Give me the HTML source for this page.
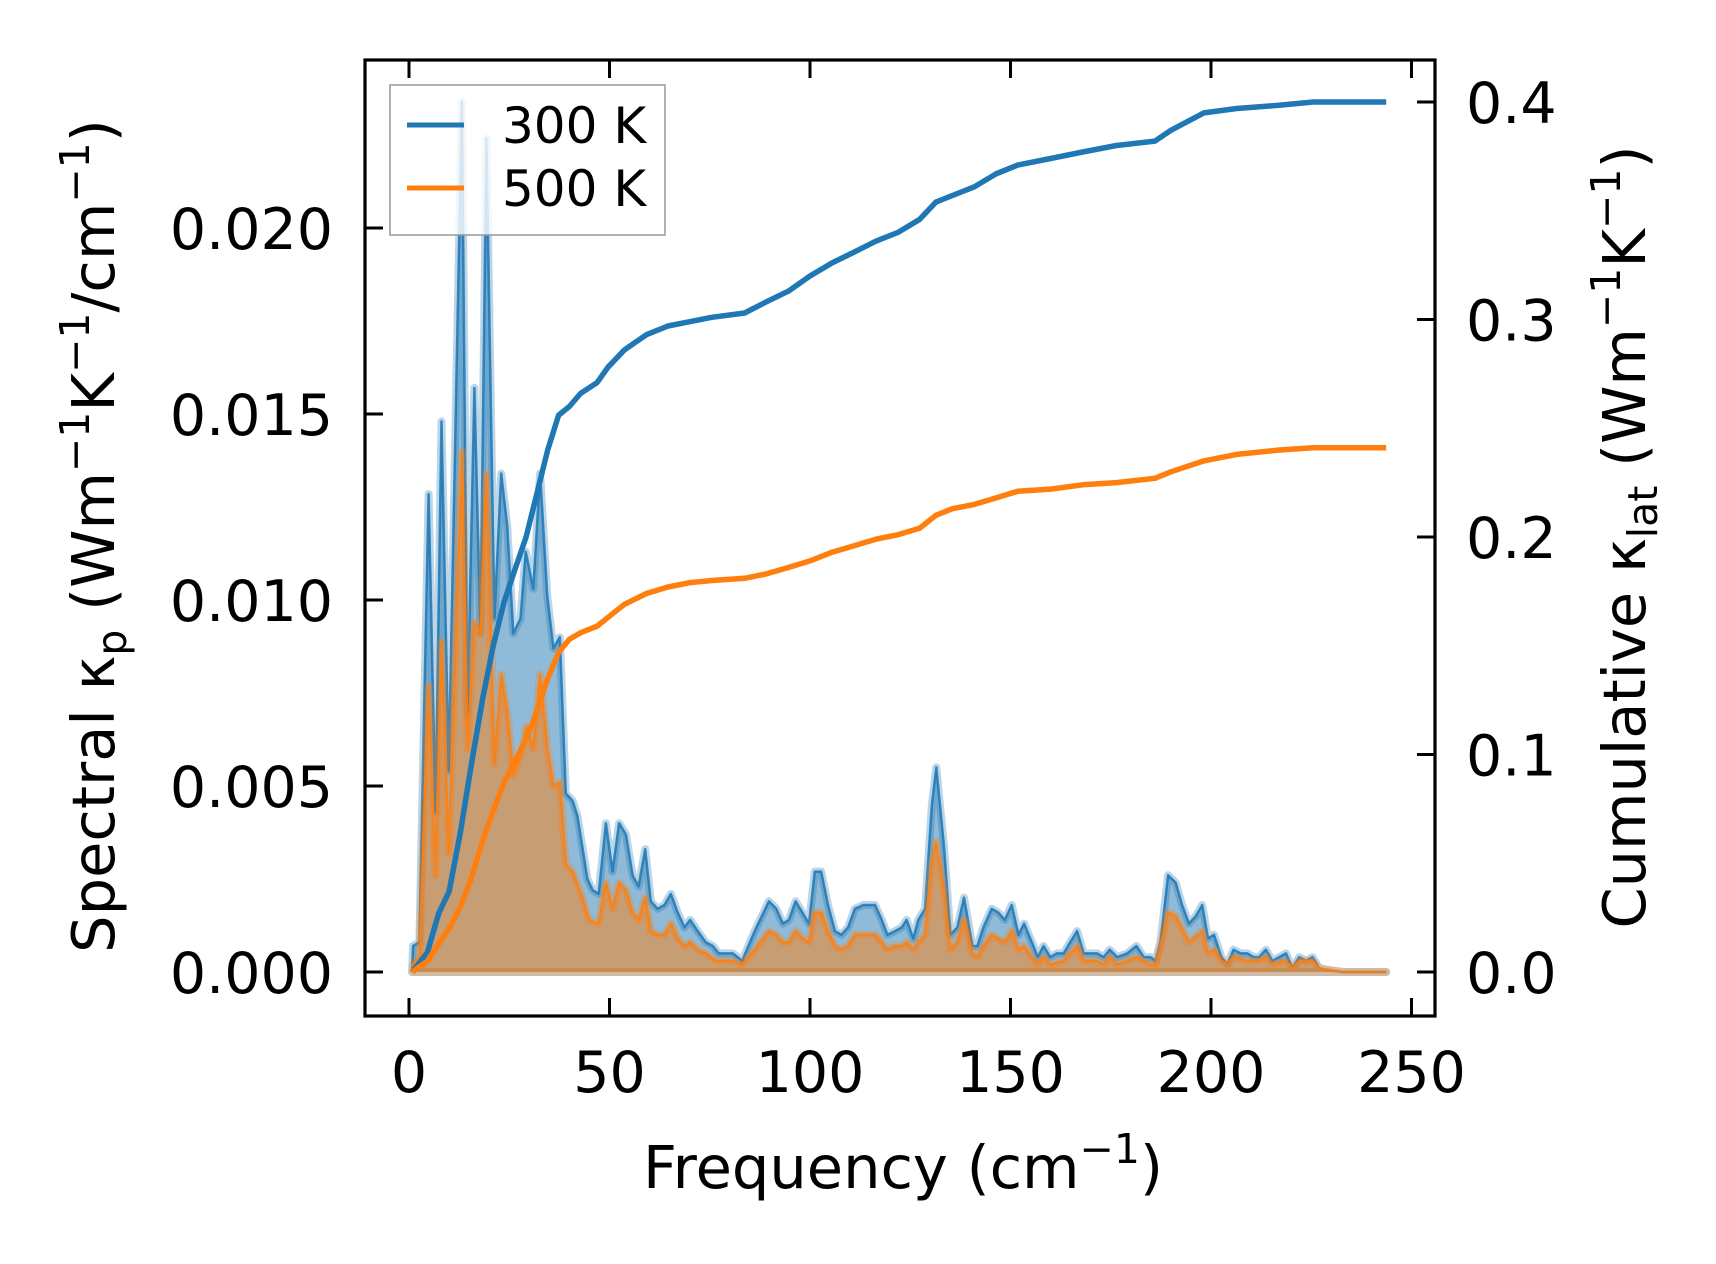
<!DOCTYPE html>
<html><head><meta charset="utf-8"><style>
html,body{margin:0;padding:0;background:#fff;}
svg{display:block;font-family:"DejaVu Sans","Liberation Sans",sans-serif;}
</style></head><body>
<svg id="chart" width="1716" height="1264" viewBox="0 0 1716 1264" xmlns="http://www.w3.org/2000/svg">
<rect x="0" y="0" width="1716" height="1264" fill="#fff"/>
<g id="marks"></g>
<g id="axes"></g>
<g>
 <rect x="390" y="85" width="275" height="150" fill="#fff" fill-opacity="0.8" stroke="#999" stroke-width="1.5"/>
 <g>
  <line x1="407" y1="125" x2="464" y2="125" stroke="#1f77b4" stroke-width="5"/>
  <text x="502" y="143" font-size="50">300 K</text>
 </g>
 <g>
  <line x1="407" y1="188" x2="464" y2="188" stroke="#ff7f0e" stroke-width="5"/>
  <text x="502" y="206" font-size="50">500 K</text>
 </g>
</g>
<text x="903" y="1188" font-size="59" text-anchor="middle">Frequency (cm<tspan font-size="41" dy="-25">−1</tspan><tspan dy="25">)</tspan></text>
<text transform="translate(114,536) rotate(-90)" font-size="59" text-anchor="middle">Spectral κ<tspan font-size="41" dy="12">p</tspan><tspan dy="-12"> (Wm</tspan><tspan font-size="41" dy="-25">−1</tspan><tspan dy="25">K</tspan><tspan font-size="41" dy="-25">−1</tspan><tspan dy="25">/cm</tspan><tspan font-size="41" dy="-25">−1</tspan><tspan dy="25">)</tspan></text>
<text transform="translate(1645,537) rotate(-90)" font-size="59" text-anchor="middle">Cumulative κ<tspan font-size="41" dy="12">lat</tspan><tspan dy="-12"> (Wm</tspan><tspan font-size="41" dy="-25">−1</tspan><tspan dy="25">K</tspan><tspan font-size="41" dy="-25">−1</tspan><tspan dy="25">)</tspan></text>
</svg>
<script>
const freq300 = [0.8,1,2.6,4.9,6.6,8.1,9.9,13.2,14.6,16.3,17.8,19.3,21.3,23,24.5,26,27.8,29.1,31,32.7,34.5,36,37.6,39.1,40.8,42,44.5,45.8,47.3,49.1,50.75,52.4,54.1,55.75,57.25,58.9,60.3,62,63.7,65.3,67,68.7,70.1,72,74,75.75,77.25,78.9,80.75,83.1,86.2,89.75,91.6,93.25,94.75,96.4,98.1,99.75,101.2,102.8,104.5,106.2,107.8,109.5,111.2,113.3,116.2,117.9,119.3,121.2,122.9,124.1,125.75,127,128.7,130.4,131.5,133.4,135,136.75,138.4,140.5,141.75,143.25,145.3,146.9,148.6,150.3,152,153.4,155.3,156.8,158.25,159.9,161.6,163.25,164.9,166.6,168.25,171.6,173.25,174.75,176.6,179.1,181.4,183.25,184.9,186.2,187.4,189.3,191.2,192.8,194.5,196.2,197.8,199.25,200.75,202.6,204.1,205.6,207.4,209.1,210.6,212,213.7,215.3,217,218.7,220.3,222,223.7,225.3,227,229,233,243.7];
const kp300 = [0,0.0007,0.0008,0.01285,0.0043,0.0148,0.0054,0.0234,0.0069,0.0157,0.0091,0.0224,0.0095,0.0134,0.012,0.0091,0.0095,0.0113,0.0103,0.0134,0.0101,0.0087,0.009,0.0048,0.0046,0.0042,0.0025,0.0022,0.0021,0.004,0.0027,0.004,0.0037,0.0026,0.0023,0.0033,0.0019,0.0017,0.0018,0.0021,0.0016,0.0012,0.0014,0.0011,0.0008,0.0007,0.0005,0.0005,0.0005,0.0003,0.0011,0.0019,0.0017,0.0013,0.0014,0.0019,0.0016,0.0013,0.0027,0.0027,0.0018,0.0011,0.001,0.0012,0.0017,0.0018,0.0018,0.0014,0.001,0.0011,0.0012,0.0014,0.0009,0.0014,0.0017,0.0045,0.0055,0.0034,0.001,0.0012,0.002,0.0007,0.0007,0.0012,0.0017,0.0016,0.0014,0.0018,0.001,0.0013,0.0008,0.0004,0.0007,0.0004,0.0005,0.0005,0.0008,0.0011,0.0005,0.0005,0.0004,0.0006,0.0004,0.0005,0.0007,0.0004,0.0004,0.0003,0.0008,0.0026,0.0024,0.0018,0.0013,0.0015,0.0018,0.0009,0.001,0.0004,0.0002,0.0006,0.0005,0.0005,0.0004,0.0004,0.0006,0.0003,0.0004,0.0005,0.0001,0.0004,0.0003,0.0004,0.0001,0.00005,0,0];
const freq500 = [0.8,1,2.6,4.9,6.6,8.1,9.9,13.2,14.6,16.3,17.8,19.3,21.3,23,24.5,26,27.8,29.3,31,32.7,34.5,36,37.6,39.1,40.8,43.25,44.9,47.3,49.1,50.75,52.4,54.1,55.75,57.25,58.9,60.3,62,63.7,65.3,67,68.7,70.1,72,74,76.6,78.9,80.75,83.1,86.2,89.75,91.6,93.25,94.75,96.4,98.1,99.75,101.2,102.8,104.5,106.2,107.8,109.5,111.2,113.3,116.2,117.9,119.3,121.2,122.9,124.1,125.75,127,128.7,130.4,131.4,133.4,135,136.75,138.4,140.5,141.75,143.25,145.3,146.9,148.6,150.3,152,153.4,155.3,156.8,158.25,159.9,163.25,166.6,168.25,171.6,173.25,174.75,176.6,181.4,184.9,186.2,187.4,189.3,191.2,194.5,197.8,199.25,200.75,202.6,204.1,205.6,209.1,212,213.7,215.3,218.7,220.3,222,225.3,227,233,243.7];
const kp500 = [0,0.0002,0.0004,0.0077,0.0026,0.0089,0.0032,0.014,0.006,0.0094,0.0091,0.0134,0.0056,0.008,0.007,0.0053,0.0058,0.0066,0.006,0.008,0.006,0.005,0.0051,0.0029,0.0027,0.002,0.0014,0.0013,0.0024,0.0017,0.0024,0.0022,0.0016,0.0014,0.002,0.0011,0.001,0.001,0.0013,0.0009,0.0007,0.0008,0.0006,0.0005,0.0003,0.0003,0.0003,0.0002,0.0006,0.0011,0.001,0.0008,0.0008,0.0011,0.0009,0.0008,0.0016,0.0016,0.0011,0.0007,0.0006,0.0007,0.001,0.001,0.001,0.0008,0.0006,0.0007,0.0007,0.0008,0.0006,0.0008,0.001,0.0029,0.0035,0.0022,0.0006,0.0008,0.0014,0.0005,0.0004,0.0007,0.001,0.0009,0.0008,0.0011,0.0006,0.0007,0.0004,0.0002,0.0004,0.0002,0.0003,0.0007,0.0003,0.0003,0.0002,0.0004,0.0002,0.0004,0.0002,0.0002,0.0007,0.0016,0.0015,0.0008,0.0011,0.0005,0.0006,0.0003,0.0002,0.0004,0.0003,0.0003,0.0004,0.0002,0.0003,0.0001,0.0003,0.0003,0.0001,0,0];
const cumFreq = [0.8,4.6,7.4,10,12.8,15.5,18.3,21,23.7,26.4,29.2,31.9,34.6,37.3,40,42.8,46.9,49.6,53.7,59.2,64.6,70,75.5,83.7,89,94.6,100,105.5,111,116.4,121.9,127.3,131.4,135.5,141,146.4,151.8,160,168,176.4,186,190,198.2,206.4,217,225.5,243.7];
const cum300 = [0,0.009,0.027,0.037,0.064,0.095,0.125,0.15,0.17,0.185,0.2,0.22,0.24,0.256,0.26,0.266,0.271,0.278,0.286,0.293,0.297,0.299,0.301,0.303,0.308,0.313,0.32,0.326,0.331,0.336,0.34,0.346,0.354,0.357,0.361,0.367,0.371,0.374,0.377,0.38,0.382,0.387,0.395,0.397,0.3985,0.4,0.4];
const cum500 = [0,0.005,0.013,0.02,0.03,0.043,0.06,0.074,0.087,0.097,0.107,0.12,0.135,0.147,0.153,0.156,0.159,0.163,0.169,0.174,0.177,0.179,0.18,0.181,0.183,0.186,0.189,0.193,0.196,0.199,0.201,0.204,0.21,0.213,0.215,0.218,0.221,0.222,0.224,0.225,0.227,0.23,0.235,0.238,0.24,0.241,0.241];
const xTicks = [0,50,100,150,200,250];
const yLeftTicks = [0,0.005,0.010,0.015,0.020];
const yLeftLabels = ["0.000","0.005","0.010","0.015","0.020"];
const yRightTicks = [0,0.1,0.2,0.3,0.4];
const yRightLabels = ["0.0","0.1","0.2","0.3","0.4"];

const NS = "http://www.w3.org/2000/svg";
const X0 = 409, XS = 4.01, Y0 = 972, YLS = 37200, YRS = 2175;
const L = 365, R = 1435, T = 60, B = 1016;
const px = f => X0 + XS * f;
const yl = v => Y0 - v * YLS;
const yr = v => Y0 - v * YRS;
const marks = document.getElementById('marks');
const axes = document.getElementById('axes');
function mk(tag, attrs, parent) {
  const e = document.createElementNS(NS, tag);
  for (const k in attrs) e.setAttribute(k, attrs[k]);
  parent.appendChild(e);
  return e;
}
function linePts(fs, vs, yf) { return fs.map((f, i) => px(f).toFixed(1) + ',' + yf(vs[i]).toFixed(1)).join(' '); }
function spectral(fs, vs, color, name) {
  const pts = linePts(fs, vs, yl);
  const area = 'M' + px(fs[0]) + ',' + yl(0) + ' L' + pts + ' L' + px(fs[fs.length - 1]) + ',' + yl(0) + ' Z';
  const fill = mk('path', {d: area, fill: color, 'fill-opacity': 0.5, stroke: color, 'stroke-opacity': 0.3, 'stroke-width': 8, 'stroke-linejoin': 'round'}, marks);
  
  
  const ln = mk('polyline', {points: pts, fill: 'none', stroke: color, 'stroke-width': 2.5, 'stroke-opacity': 0.85, 'stroke-linejoin': 'round'}, marks);
  
  
}
spectral(freq300, kp300, '#1f77b4', 'spectral-300k');
spectral(freq500, kp500, '#ff7f0e', 'spectral-500k');
const c3 = mk('polyline', {points: linePts(cumFreq, cum300, yr), fill: 'none', stroke: '#1f77b4', 'stroke-width': 5.5, 'stroke-linejoin': 'round'}, marks);


const c5 = mk('polyline', {points: linePts(cumFreq, cum500, yr), fill: 'none', stroke: '#ff7f0e', 'stroke-width': 5.5, 'stroke-linejoin': 'round'}, marks);



const frame = mk('rect', {x: L, y: T, width: R - L, height: B - T, fill: 'none', stroke: '#000', 'stroke-width': 3.2}, axes);


xTicks.forEach(t => {
  const x = px(t);
  const tb = mk('line', {x1: x, y1: B, x2: x, y2: B - 18, stroke: '#000', 'stroke-width': 3}, axes);
  
  
  const tt = mk('line', {x1: x, y1: T, x2: x, y2: T + 18, stroke: '#000', 'stroke-width': 3}, axes);
  
  
  const lb = mk('text', {x: x, y: 1092, 'font-size': 57, 'text-anchor': 'middle'}, axes);
  lb.textContent = String(t);
  
  
});
yLeftTicks.forEach((t, i) => {
  const y = yl(t);
  const tk = mk('line', {x1: L, y1: y, x2: L + 18, y2: y, stroke: '#000', 'stroke-width': 3}, axes);
  
  
  const lb = mk('text', {x: 333, y: y + 21, 'font-size': 57, 'text-anchor': 'end'}, axes);
  lb.textContent = yLeftLabels[i];
  
  
});
yRightTicks.forEach((t, i) => {
  const y = yr(t);
  const tk = mk('line', {x1: R, y1: y, x2: R - 18, y2: y, stroke: '#000', 'stroke-width': 3}, axes);
  
  
  const lb = mk('text', {x: 1466, y: y + 21, 'font-size': 57, 'text-anchor': 'start'}, axes);
  lb.textContent = yRightLabels[i];
  
  
});
</script>
</body></html>
